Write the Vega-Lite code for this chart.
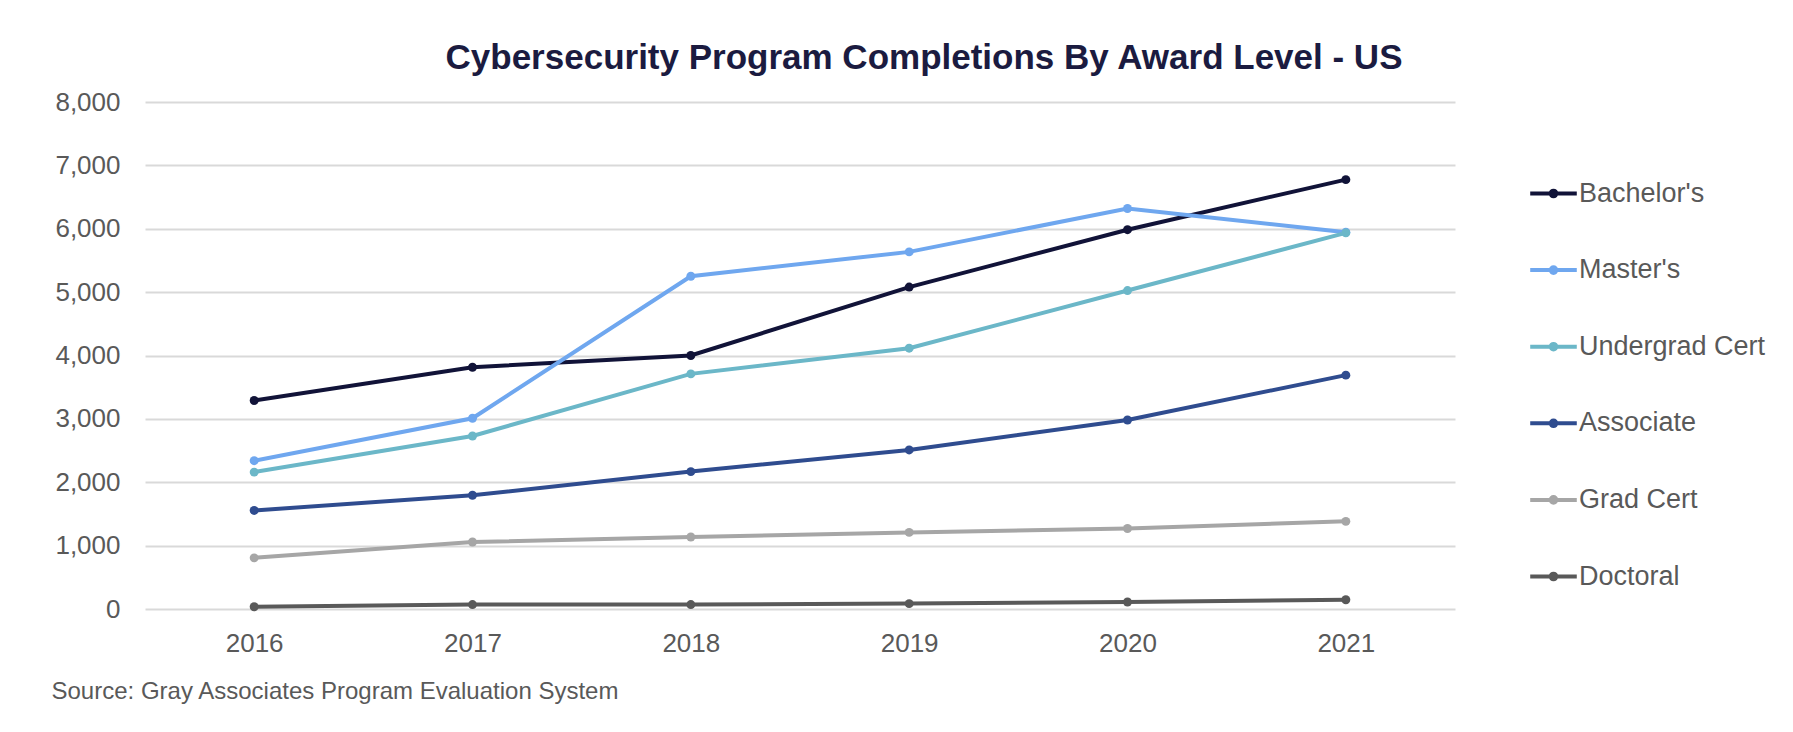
{
  "$schema": "https://vega.github.io/schema/vega-lite/v6.json",
  "width": 1310,
  "height": 507,
  "autosize": {"type": "none"},
  "padding": {"left": 145, "top": 102, "right": 338, "bottom": 123},
  "background": "white",
  "config": {"font": "Liberation Sans", "view": {"stroke": null}},
  "title": {
    "text": "Cybersecurity Program Completions By Award Level - US",
    "anchor": "middle",
    "frame": "group",
    "dx": 124,
    "dy": 51,
    "offset": 36,
    "baseline": "alphabetic",
    "fontSize": 35,
    "font": "Liberation Sans",
    "fontWeight": "bold",
    "color": "#1b1b40"
  },
  "data": {
    "values": [
      {"level": "Bachelor's", "year": "2016", "completions": 3290},
      {"level": "Bachelor's", "year": "2017", "completions": 3815},
      {"level": "Bachelor's", "year": "2018", "completions": 4000},
      {"level": "Bachelor's", "year": "2019", "completions": 5080},
      {"level": "Bachelor's", "year": "2020", "completions": 5985},
      {"level": "Bachelor's", "year": "2021", "completions": 6775},
      {"level": "Master's", "year": "2016", "completions": 2340},
      {"level": "Master's", "year": "2017", "completions": 3010},
      {"level": "Master's", "year": "2018", "completions": 5250},
      {"level": "Master's", "year": "2019", "completions": 5635},
      {"level": "Master's", "year": "2020", "completions": 6320},
      {"level": "Master's", "year": "2021", "completions": 5945},
      {"level": "Undergrad Cert", "year": "2016", "completions": 2160},
      {"level": "Undergrad Cert", "year": "2017", "completions": 2730},
      {"level": "Undergrad Cert", "year": "2018", "completions": 3710},
      {"level": "Undergrad Cert", "year": "2019", "completions": 4115},
      {"level": "Undergrad Cert", "year": "2020", "completions": 5025},
      {"level": "Undergrad Cert", "year": "2021", "completions": 5935},
      {"level": "Associate", "year": "2016", "completions": 1555},
      {"level": "Associate", "year": "2017", "completions": 1795},
      {"level": "Associate", "year": "2018", "completions": 2168},
      {"level": "Associate", "year": "2019", "completions": 2510},
      {"level": "Associate", "year": "2020", "completions": 2982},
      {"level": "Associate", "year": "2021", "completions": 3690},
      {"level": "Grad Cert", "year": "2016", "completions": 807},
      {"level": "Grad Cert", "year": "2017", "completions": 1057},
      {"level": "Grad Cert", "year": "2018", "completions": 1136},
      {"level": "Grad Cert", "year": "2019", "completions": 1209},
      {"level": "Grad Cert", "year": "2020", "completions": 1270},
      {"level": "Grad Cert", "year": "2021", "completions": 1383},
      {"level": "Doctoral", "year": "2016", "completions": 35},
      {"level": "Doctoral", "year": "2017", "completions": 70},
      {"level": "Doctoral", "year": "2018", "completions": 70},
      {"level": "Doctoral", "year": "2019", "completions": 85},
      {"level": "Doctoral", "year": "2020", "completions": 110},
      {"level": "Doctoral", "year": "2021", "completions": 146}
    ]
  },
  "encoding": {
    "x": {
      "field": "year",
      "type": "ordinal",
      "scale": {"type": "point", "padding": 0.5},
      "axis": {
        "title": "Source: Gray Associates Program Evaluation System",
        "titleX": -94,
        "titleY": 82,
        "titleAlign": "left",
        "titleAnchor": "start",
        "titleBaseline": "middle",
        "titleFontSize": 24,
        "titleFontWeight": "normal",
        "titleColor": "#595959",
        "labelAngle": 0,
        "labelFontSize": 26,
        "labelColor": "#595959",
        "labelBaseline": "middle",
        "labelPadding": 34,
        "domain": false,
        "ticks": false,
        "tickSize": 0,
        "grid": false
      }
    },
    "y": {
      "field": "completions",
      "type": "quantitative",
      "scale": {"domain": [0, 8000], "nice": false},
      "axis": {
        "title": null,
        "values": [0, 1000, 2000, 3000, 4000, 5000, 6000, 7000, 8000],
        "format": ",.0f",
        "domain": false,
        "ticks": false,
        "tickSize": 0,
        "labelFontSize": 26,
        "labelColor": "#595959",
        "labelPadding": 25,
        "gridColor": "#d9d9d9",
        "gridWidth": 2
      }
    },
    "color": {
      "field": "level",
      "type": "nominal",
      "sort": null,
      "scale": {
        "domain": ["Bachelor's", "Master's", "Undergrad Cert", "Associate", "Grad Cert", "Doctoral"],
        "range": ["#111338", "#6fa7ef", "#6bb7c8", "#2f4c8f", "#a6a6a6", "#595959"]
      },
      "legend": {
        "title": null,
        "orient": "none",
        "legendX": 1383,
        "legendY": 66,
        "padding": 0,
        "symbolType": "M-1,0H1M-0.12,0A0.12,0.12,0,1,1,0.12,0A0.12,0.12,0,1,1,-0.12,0Z",
        "symbolSize": 2170,
        "symbolStrokeWidth": 4,
        "symbolOpacity": 1,
        "labelFontSize": 27,
        "labelColor": "#595959",
        "labelOffset": 0,
        "labelLimit": 400,
        "rowPadding": 37.6,
        "encode": {
          "symbols": {
            "update": {
              "fill": {"scale": "color", "field": "value"},
              "stroke": {"scale": "color", "field": "value"},
              "opacity": {"value": 1}
            }
          }
        }
      }
    }
  },
  "layer": [
    {"mark": {"type": "line", "strokeWidth": 4}},
    {"mark": {"type": "point", "filled": true, "size": 80, "opacity": 1}}
  ]
}
